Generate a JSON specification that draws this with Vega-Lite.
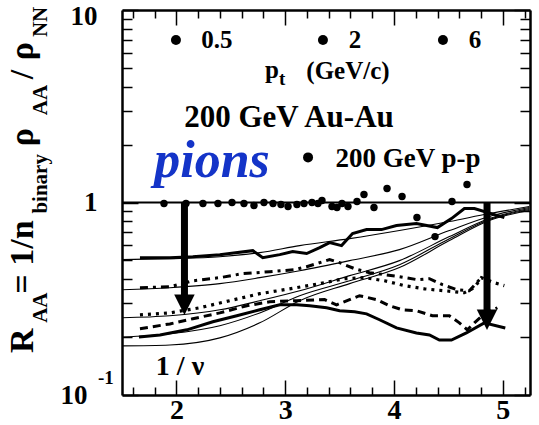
{
 "$schema": "https://vega.github.io/schema/vega-lite/v6.json",
 "width": 408, "height": 385,
 "autosize": {"type": "none"},
 "padding": {"left": 122, "top": 10, "right": 9, "bottom": 30},
 "background": "white",
 "config": {"view": {"stroke": null}, "font": "Times New Roman"},
 "resolve": {"axis": {"x": "independent", "y": "independent"}},
 "layer": [
  {
   "data": {"values": [
    {"c":"A","x":1.5,"y":0.505},{"c":"A","x":1.94,"y":0.511},{"c":"A","x":2.399,"y":0.523},{"c":"A","x":2.766,"y":0.549},{"c":"A","x":3.133,"y":0.597},{"c":"A","x":3.592,"y":0.649},{"c":"A","x":4.05,"y":0.715},{"c":"A","x":4.509,"y":0.796},{"c":"A","x":4.876,"y":0.876},{"c":"A","x":5.243,"y":0.953},
    {"c":"B","x":1.5,"y":0.352},{"c":"B","x":1.94,"y":0.361},{"c":"B","x":2.399,"y":0.379},{"c":"B","x":2.766,"y":0.407},{"c":"B","x":3.133,"y":0.442},{"c":"B","x":3.592,"y":0.499},{"c":"B","x":4.05,"y":0.569},{"c":"B","x":4.509,"y":0.715},{"c":"B","x":4.876,"y":0.846},{"c":"B","x":5.243,"y":0.942},
    {"c":"C","x":1.5,"y":0.252},{"c":"C","x":1.94,"y":0.258},{"c":"C","x":2.399,"y":0.277},{"c":"C","x":2.766,"y":0.309},{"c":"C","x":3.133,"y":0.348},{"c":"C","x":3.592,"y":0.417},{"c":"C","x":4.05,"y":0.499},{"c":"C","x":4.509,"y":0.665},{"c":"C","x":4.876,"y":0.825},{"c":"C","x":5.243,"y":0.931},
    {"c":"D","x":1.5,"y":0.2},{"c":"D","x":1.94,"y":0.208},{"c":"D","x":2.399,"y":0.229},{"c":"D","x":2.766,"y":0.267},{"c":"D","x":3.133,"y":0.328},{"c":"D","x":3.592,"y":0.392},{"c":"D","x":4.05,"y":0.475},{"c":"D","x":4.509,"y":0.649},{"c":"D","x":4.876,"y":0.816},{"c":"D","x":5.243,"y":0.92},
    {"c":"E","x":1.5,"y":0.18},{"c":"E","x":1.94,"y":0.182},{"c":"E","x":2.399,"y":0.198},{"c":"E","x":2.766,"y":0.237},{"c":"E","x":3.133,"y":0.309},{"c":"E","x":3.592,"y":0.379},{"c":"E","x":4.05,"y":0.459},{"c":"E","x":4.509,"y":0.634},{"c":"E","x":4.876,"y":0.806},{"c":"E","x":5.243,"y":0.908}
   ]},
   "mark": {"type": "line", "color": "black", "strokeWidth": 1.1, "interpolate": "monotone"},
   "encoding": {
    "x": {"field": "x", "type": "quantitative", "scale": {"domain": [1.5, 5.25], "nice": false, "zero": false},
     "axis": {"orient": "bottom", "values": [1.6,1.8,2,2.2,2.4,2.6,2.8,3,3.2,3.4,3.6,3.8,4,4.2,4.4,4.6,4.8,5,5.2],
      "labelExpr": "abs(datum.value-round(datum.value))<0.01 ? format(datum.value,'d') : ''",
      "tickSize": {"condition": {"test": "abs(datum.value-round(datum.value))<0.01", "value": -15}, "value": -8},
      "tickWidth": 1.5, "tickColor": "black", "domainColor": "black", "domainWidth": 2.5,
      "labelFont": "Times New Roman", "labelFontWeight": "bold", "labelFontSize": 28, "labelColor": "black",
      "labelPadding": 16, "labelFlush": false, "labelOverlap": false, "grid": false, "title": null}},
    "y": {"field": "y", "type": "quantitative", "scale": {"type": "log", "domain": [0.1, 10], "nice": false},
     "axis": {"orient": "left", "values": [0.1,0.2,0.3,0.4,0.5,0.6,0.7,0.8,0.9,1,2,3,4,5,6,7,8,9,10],
      "labelExpr": "datum.value==1 ? '1' : ((datum.value==10 || datum.value==0.1) ? '10' : '')",
      "tickSize": {"condition": {"test": "datum.value==1 || datum.value==10 || datum.value==0.1", "value": -16}, "value": -10},
      "labelPadding": {"condition": {"test": "datum.value==0.1", "value": 51}, "value": 41},
      "labelOffset": {"condition": {"test": "datum.value==10", "value": 6}, "value": 0},
      "tickWidth": 1.5, "tickColor": "black", "domainColor": "black", "domainWidth": 2.5,
      "labelFont": "Times New Roman", "labelFontWeight": "bold", "labelFontSize": 27, "labelColor": "black",
      "labelFlush": false, "labelOverlap": false, "grid": false, "title": null}},
    "detail": {"field": "c"}
   }
  },
  {
   "data": {"values": [
    {"c":"up","x":1.665,"y":0.517},{"c":"up","x":1.94,"y":0.517},{"c":"up","x":2.151,"y":0.523},{"c":"up","x":2.399,"y":0.536},{"c":"up","x":2.702,"y":0.562},{"c":"up","x":2.794,"y":0.517},{"c":"up","x":2.95,"y":0.536},{"c":"up","x":3.069,"y":0.556},{"c":"up","x":3.197,"y":0.543},{"c":"up","x":3.317,"y":0.583},{"c":"up","x":3.408,"y":0.619},{"c":"up","x":3.518,"y":0.597},{"c":"up","x":3.619,"y":0.69},{"c":"up","x":3.748,"y":0.723},{"c":"up","x":3.885,"y":0.723},{"c":"up","x":4.023,"y":0.759},{"c":"up","x":4.206,"y":0.778},{"c":"up","x":4.399,"y":0.741},{"c":"up","x":4.528,"y":0.825},{"c":"up","x":4.647,"y":0.931},{"c":"up","x":4.739,"y":0.931},{"c":"up","x":5.014,"y":0.835},
    {"c":"lo","x":1.656,"y":0.2},{"c":"lo","x":1.849,"y":0.205},{"c":"lo","x":2.096,"y":0.218},{"c":"lo","x":2.335,"y":0.24},{"c":"lo","x":2.555,"y":0.258},{"c":"lo","x":2.766,"y":0.277},{"c":"lo","x":2.95,"y":0.294},{"c":"lo","x":3.106,"y":0.294},{"c":"lo","x":3.225,"y":0.291},{"c":"lo","x":3.381,"y":0.284},{"c":"lo","x":3.5,"y":0.274},{"c":"lo","x":3.638,"y":0.271},{"c":"lo","x":3.748,"y":0.264},{"c":"lo","x":3.867,"y":0.246},{"c":"lo","x":4.023,"y":0.223},{"c":"lo","x":4.206,"y":0.21},{"c":"lo","x":4.326,"y":0.205},{"c":"lo","x":4.417,"y":0.193},{"c":"lo","x":4.528,"y":0.193},{"c":"lo","x":4.665,"y":0.21},{"c":"lo","x":4.83,"y":0.237},{"c":"lo","x":5.023,"y":0.223}
   ]},
   "mark": {"type": "line", "color": "black", "strokeWidth": 3},
   "encoding": {
    "x": {"field": "x", "type": "quantitative", "scale": {"domain": [1.5, 5.25], "nice": false, "zero": false},
     "axis": {"orient": "top", "values": [1.6,1.8,2,2.2,2.4,2.6,2.8,3,3.2,3.4,3.6,3.8,4,4.2,4.4,4.6,4.8,5,5.2],
      "labels": false,
      "tickSize": {"condition": {"test": "abs(datum.value-round(datum.value))<0.01", "value": -15}, "value": -8},
      "tickWidth": 1.5, "tickColor": "black", "domainColor": "black", "domainWidth": 2.5, "grid": false, "title": null}},
    "y": {"field": "y", "type": "quantitative", "scale": {"type": "log", "domain": [0.1, 10], "nice": false},
     "axis": {"orient": "right", "values": [0.1,0.2,0.3,0.4,0.5,0.6,0.7,0.8,0.9,1,2,3,4,5,6,7,8,9,10],
      "labels": false,
      "tickSize": {"condition": {"test": "datum.value==1 || datum.value==10 || datum.value==0.1", "value": -16}, "value": -10},
      "tickWidth": 1.5, "tickColor": "black", "domainColor": "black", "domainWidth": 2.5, "grid": false, "title": null}},
    "detail": {"field": "c"}
   }
  },
  {
   "data": {"values": [
    {"x":1.665,"y":0.361},{"x":1.94,"y":0.365},{"x":2.151,"y":0.392},{"x":2.399,"y":0.407},{"x":2.61,"y":0.427},{"x":2.858,"y":0.437},{"x":3.087,"y":0.448},{"x":3.197,"y":0.464},{"x":3.408,"y":0.505},{"x":3.5,"y":0.487},{"x":3.638,"y":0.453},{"x":3.775,"y":0.432},{"x":3.913,"y":0.422},{"x":4.05,"y":0.412},{"x":4.216,"y":0.397},{"x":4.326,"y":0.402},{"x":4.445,"y":0.374},{"x":4.583,"y":0.352},{"x":4.693,"y":0.348},{"x":4.803,"y":0.407}
   ]},
   "mark": {"type": "line", "color": "black", "strokeWidth": 3, "strokeDash": [8, 5, 3, 5]},
   "encoding": {
    "x": {"field": "x", "type": "quantitative", "scale": {"domain": [1.5, 5.25], "nice": false, "zero": false}, "axis": null},
    "y": {"field": "y", "type": "quantitative", "scale": {"type": "log", "domain": [0.1, 10], "nice": false}, "axis": null}
   }
  },
  {
   "data": {"values": [
    {"x":1.665,"y":0.261},{"x":1.94,"y":0.267},{"x":2.216,"y":0.284},{"x":2.491,"y":0.309},{"x":2.766,"y":0.336},{"x":3.041,"y":0.356},{"x":3.317,"y":0.379},{"x":3.546,"y":0.402},{"x":3.729,"y":0.407},{"x":3.913,"y":0.392},{"x":4.096,"y":0.37},{"x":4.28,"y":0.356},{"x":4.463,"y":0.348},{"x":4.647,"y":0.34},{"x":4.739,"y":0.361},{"x":4.803,"y":0.407},{"x":4.922,"y":0.383},{"x":5.014,"y":0.37}
   ]},
   "mark": {"type": "line", "color": "black", "strokeWidth": 3.2, "strokeDash": [3, 5]},
   "encoding": {
    "x": {"field": "x", "type": "quantitative", "scale": {"domain": [1.5, 5.25], "nice": false, "zero": false}, "axis": null},
    "y": {"field": "y", "type": "quantitative", "scale": {"type": "log", "domain": [0.1, 10], "nice": false}, "axis": null}
   }
  },
  {
   "data": {"values": [
    {"x":1.665,"y":0.221},{"x":1.94,"y":0.234},{"x":2.151,"y":0.249},{"x":2.399,"y":0.267},{"x":2.647,"y":0.291},{"x":2.858,"y":0.305},{"x":3.106,"y":0.309},{"x":3.362,"y":0.313},{"x":3.472,"y":0.294},{"x":3.592,"y":0.313},{"x":3.683,"y":0.328},{"x":3.839,"y":0.313},{"x":3.959,"y":0.291},{"x":4.078,"y":0.277},{"x":4.206,"y":0.274},{"x":4.353,"y":0.258},{"x":4.509,"y":0.258},{"x":4.601,"y":0.237},{"x":4.674,"y":0.218},{"x":4.739,"y":0.237},{"x":4.83,"y":0.264},{"x":4.95,"y":0.284}
   ]},
   "mark": {"type": "line", "color": "black", "strokeWidth": 3, "strokeDash": [8, 5]},
   "encoding": {
    "x": {"field": "x", "type": "quantitative", "scale": {"domain": [1.5, 5.25], "nice": false, "zero": false}, "axis": null},
    "y": {"field": "y", "type": "quantitative", "scale": {"type": "log", "domain": [0.1, 10], "nice": false}, "axis": null}
   }
  },
  {
   "data": {"values": [{"y": 1}]},
   "mark": {"type": "rule", "color": "black", "strokeWidth": 2},
   "encoding": {
    "y": {"field": "y", "type": "quantitative", "scale": {"type": "log", "domain": [0.1, 10], "nice": false}, "axis": null}
   }
  },
  {
   "data": {"values": [
    {"x":1.886,"y":0.988},{"x":2.088,"y":0.988},{"x":2.244,"y":0.988},{"x":2.382,"y":0.988},{"x":2.511,"y":1.0},{"x":2.621,"y":0.988},{"x":2.713,"y":0.965},{"x":2.805,"y":1.0},{"x":2.888,"y":0.988},{"x":2.961,"y":0.976},{"x":3.026,"y":0.953},{"x":3.108,"y":0.976},{"x":3.173,"y":0.988},{"x":3.246,"y":1.0},{"x":3.301,"y":0.988},{"x":3.338,"y":1.024},{"x":3.43,"y":0.953},{"x":3.476,"y":0.942},{"x":3.522,"y":0.988},{"x":3.577,"y":0.953},{"x":3.66,"y":1.012},{"x":3.724,"y":1.101},{"x":3.816,"y":0.942},{"x":3.936,"y":1.183},{"x":4.074,"y":1.075},{"x":4.211,"y":0.835},{"x":4.377,"y":0.665},{"x":4.533,"y":1.012},{"x":4.671,"y":1.241}
   ]},
   "mark": {"type": "circle", "color": "black", "opacity": 1, "size": 55},
   "encoding": {
    "x": {"field": "x", "type": "quantitative", "scale": {"domain": [1.5, 5.25], "nice": false, "zero": false}, "axis": null},
    "y": {"field": "y", "type": "quantitative", "scale": {"type": "log", "domain": [0.1, 10], "nice": false}, "axis": null}
   }
  },
  {
   "data": {"values": [{"x":1.996,"y":6.98},{"x":3.347,"y":6.98},{"x":4.45,"y":6.98},{"x":3.21,"y":1.715}]},
   "mark": {"type": "circle", "color": "black", "opacity": 1, "size": 100},
   "encoding": {
    "x": {"field": "x", "type": "quantitative", "scale": {"domain": [1.5, 5.25], "nice": false, "zero": false}, "axis": null},
    "y": {"field": "y", "type": "quantitative", "scale": {"type": "log", "domain": [0.1, 10], "nice": false}, "axis": null}
   }
  },
  {
   "data": {"values": [{"x":2.074,"y":1,"y2":0.324},{"x":4.855,"y":1,"y2":0.267}]},
   "mark": {"type": "rule", "color": "black", "strokeWidth": 7},
   "encoding": {
    "x": {"field": "x", "type": "quantitative", "scale": {"domain": [1.5, 5.25], "nice": false, "zero": false}, "axis": null},
    "y": {"field": "y", "type": "quantitative", "scale": {"type": "log", "domain": [0.1, 10], "nice": false}, "axis": null},
    "y2": {"field": "y2"}
   }
  },
  {
   "data": {"values": [{"x":2.074,"y":0.294},{"x":4.855,"y":0.246}]},
   "mark": {"type": "point", "shape": "M-1,-1L1,-1L0,1Z", "filled": true, "size": 420, "color": "black", "opacity": 1},
   "encoding": {
    "x": {"field": "x", "type": "quantitative", "scale": {"domain": [1.5, 5.25], "nice": false, "zero": false}, "axis": null},
    "y": {"field": "y", "type": "quantitative", "scale": {"type": "log", "domain": [0.1, 10], "nice": false}, "axis": null}
   }
  },
  {
   "data": {"values": [{"x":2.373,"y":6.34,"t":"0.5"},{"x":3.641,"y":6.34,"t":"2"},{"x":4.744,"y":6.34,"t":"6"},{"x":3.577,"y":4.37,"t":"(GeV/c)"}]},
   "mark": {"type": "text", "font": "Times New Roman", "fontWeight": "bold", "fontSize": 25, "color": "black", "align": "center", "baseline": "alphabetic"},
   "encoding": {
    "x": {"field": "x", "type": "quantitative", "scale": {"domain": [1.5, 5.25], "nice": false, "zero": false}, "axis": null},
    "y": {"field": "y", "type": "quantitative", "scale": {"type": "log", "domain": [0.1, 10], "nice": false}, "axis": null},
    "text": {"field": "t"}
   }
  },
  {
   "data": {"values": [{"x":2.814,"y":4.42,"t":"p"}]},
   "mark": {"type": "text", "font": "Times New Roman", "fontWeight": "bold", "fontSize": 25, "color": "black", "align": "left", "baseline": "alphabetic"},
   "encoding": {
    "x": {"field": "x", "type": "quantitative", "scale": {"domain": [1.5, 5.25], "nice": false, "zero": false}, "axis": null},
    "y": {"field": "y", "type": "quantitative", "scale": {"type": "log", "domain": [0.1, 10], "nice": false}, "axis": null},
    "text": {"field": "t"}
   }
  },
  {
   "data": {"values": [{"x":2.943,"y":4.07,"t":"t"},{"x":1.279,"y":0.114,"t":"-1"}]},
   "mark": {"type": "text", "font": "Times New Roman", "fontWeight": "bold", "fontSize": 19, "color": "black", "align": "left", "baseline": "alphabetic"},
   "encoding": {
    "x": {"field": "x", "type": "quantitative", "scale": {"domain": [1.5, 5.25], "nice": false, "zero": false}, "axis": null},
    "y": {"field": "y", "type": "quantitative", "scale": {"type": "log", "domain": [0.1, 10], "nice": false}, "axis": null},
    "text": {"field": "t"}
   }
  },
  {
   "data": {"values": [{"x":3.035,"y":2.458,"t":"200 GeV Au-Au"}]},
   "mark": {"type": "text", "font": "Times New Roman", "fontWeight": "bold", "fontSize": 31, "color": "black", "align": "center", "baseline": "alphabetic"},
   "encoding": {
    "x": {"field": "x", "type": "quantitative", "scale": {"domain": [1.5, 5.25], "nice": false, "zero": false}, "axis": null},
    "y": {"field": "y", "type": "quantitative", "scale": {"type": "log", "domain": [0.1, 10], "nice": false}, "axis": null},
    "text": {"field": "t"}
   }
  },
  {
   "data": {"values": [{"x":4.129,"y":1.521,"t":"200 GeV p-p"}]},
   "mark": {"type": "text", "font": "Times New Roman", "fontWeight": "bold", "fontSize": 27, "color": "black", "align": "center", "baseline": "alphabetic"},
   "encoding": {
    "x": {"field": "x", "type": "quantitative", "scale": {"domain": [1.5, 5.25], "nice": false, "zero": false}, "axis": null},
    "y": {"field": "y", "type": "quantitative", "scale": {"type": "log", "domain": [0.1, 10], "nice": false}, "axis": null},
    "text": {"field": "t"}
   }
  },
  {
   "data": {"values": [{"x":2.033,"y":0.127,"t":"1 / ν"}]},
   "mark": {"type": "text", "font": "Times New Roman", "fontWeight": "bold", "fontSize": 28, "color": "black", "align": "center", "baseline": "alphabetic"},
   "encoding": {
    "x": {"field": "x", "type": "quantitative", "scale": {"domain": [1.5, 5.25], "nice": false, "zero": false}, "axis": null},
    "y": {"field": "y", "type": "quantitative", "scale": {"type": "log", "domain": [0.1, 10], "nice": false}, "axis": null},
    "text": {"field": "t"}
   }
  },
  {
   "data": {"values": [{"x":2.327,"y":1.349,"t":"pions"}]},
   "mark": {"type": "text", "font": "Times New Roman", "fontWeight": "bold", "fontStyle": "italic", "fontSize": 52, "color": "#1434c8", "align": "center", "baseline": "alphabetic"},
   "encoding": {
    "x": {"field": "x", "type": "quantitative", "scale": {"domain": [1.5, 5.25], "nice": false, "zero": false}, "axis": null},
    "y": {"field": "y", "type": "quantitative", "scale": {"type": "log", "domain": [0.1, 10], "nice": false}, "axis": null},
    "text": {"field": "t"}
   }
  },
  {
   "data": {"values": [{"x":0.682,"y":0.1655,"t":"R"},{"x":0.682,"y":0.336,"t":"= 1/n"},{"x":0.682,"y":1.957,"t":"ρ"},{"x":0.682,"y":4.372,"t":"/"},{"x":0.682,"y":5.49,"t":"ρ"}]},
   "mark": {"type": "text", "font": "Times New Roman", "fontWeight": "bold", "fontSize": 34, "color": "black", "align": "left", "baseline": "alphabetic", "angle": 270},
   "encoding": {
    "x": {"field": "x", "type": "quantitative", "scale": {"domain": [1.5, 5.25], "nice": false, "zero": false}, "axis": null},
    "y": {"field": "y", "type": "quantitative", "scale": {"type": "log", "domain": [0.1, 10], "nice": false}, "axis": null},
    "text": {"field": "t"}
   }
  },
  {
   "data": {"values": [{"x":0.811,"y":0.237,"t":"AA"},{"x":0.811,"y":0.876,"t":"binary"},{"x":0.811,"y":2.84,"t":"AA"},{"x":0.811,"y":7.23,"t":"NN"}]},
   "mark": {"type": "text", "font": "Times New Roman", "fontWeight": "bold", "fontSize": 21, "color": "black", "align": "left", "baseline": "alphabetic", "angle": 270},
   "encoding": {
    "x": {"field": "x", "type": "quantitative", "scale": {"domain": [1.5, 5.25], "nice": false, "zero": false}, "axis": null},
    "y": {"field": "y", "type": "quantitative", "scale": {"type": "log", "domain": [0.1, 10], "nice": false}, "axis": null},
    "text": {"field": "t"}
   }
  }
 ]
}
